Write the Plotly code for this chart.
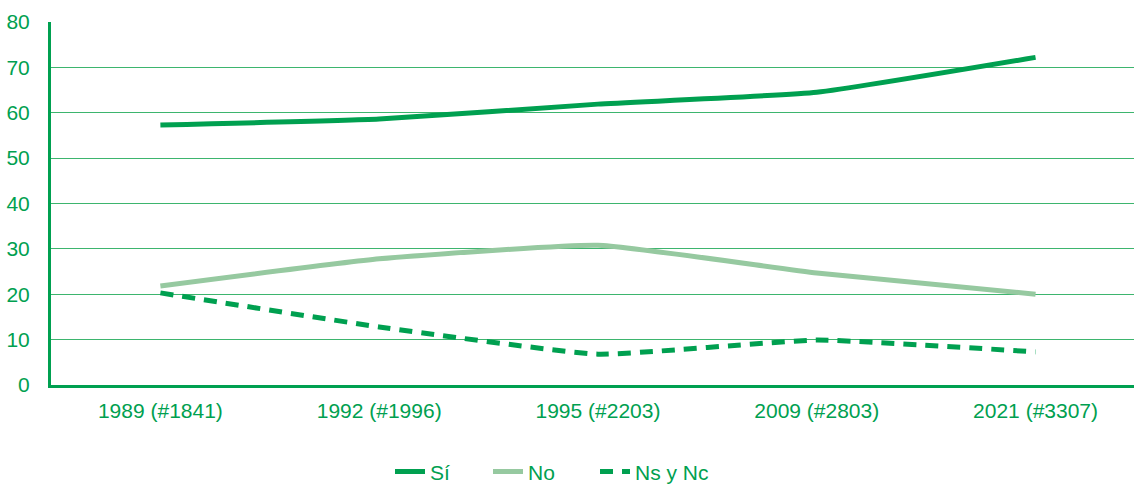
import plotly.graph_objects as go

categories = ["1989 (#1841)", "1992 (#1996)", "1995 (#2203)", "2009 (#2803)", "2021 (#3307)"]
si = [57.3, 58.6, 61.9, 64.5, 72.2]
no = [21.8, 27.8, 30.8, 24.7, 20.0]
nsnc = [20.3, 12.8, 6.8, 9.9, 7.3]

DARK = "#00A050"
LIGHT = "#96C9A0"
GRID = "#3DB56E"
FONT = "Liberation Sans, Arial, sans-serif"
W, H = 1134, 485

fig = go.Figure()
fig.add_trace(go.Scatter(x=categories, y=si, name="Sí", mode="lines", legend="legend",
                         line=dict(color=DARK, width=5, shape="spline", smoothing=0.4)))
fig.add_trace(go.Scatter(x=categories, y=no, name="No", mode="lines", legend="legend2",
                         line=dict(color=LIGHT, width=5, shape="spline", smoothing=0.4)))
fig.add_trace(go.Scatter(x=categories, y=nsnc, name="Ns y Nc", mode="lines", legend="legend3",
                         line=dict(color=DARK, width=5, dash="13px,9px", shape="spline", smoothing=0.4)))

def leg(xpx):
    return dict(orientation="h", x=xpx / W, xanchor="left", xref="container",
                y=0.027, yanchor="middle", yref="container",
                bgcolor="rgba(0,0,0,0)",
                font=dict(size=21, color=DARK, family=FONT))

fig.update_layout(
    width=W, height=H,
    margin=dict(l=51, r=0, t=22, b=100, autoexpand=False),
    paper_bgcolor="white", plot_bgcolor="white",
    font=dict(family=FONT, color=DARK, size=21),
    showlegend=True,
    legend=leg(390), legend2=leg(488), legend3=leg(595),
    xaxis=dict(type="category", range=[-0.5, 4.45], showgrid=False,
               showline=True, linecolor=DARK, linewidth=3, ticks="",
               ticklabelstandoff=5,
               tickfont=dict(size=21, color=DARK), zeroline=False),
    yaxis=dict(range=[0, 80], dtick=10, showgrid=True, gridcolor=GRID, gridwidth=1.3,
               showline=True, linecolor=DARK, linewidth=3, ticks="",
               ticklabelstandoff=14, tickfont=dict(size=21, color=DARK), zeroline=False),
)

fig.write_html("out.html")
